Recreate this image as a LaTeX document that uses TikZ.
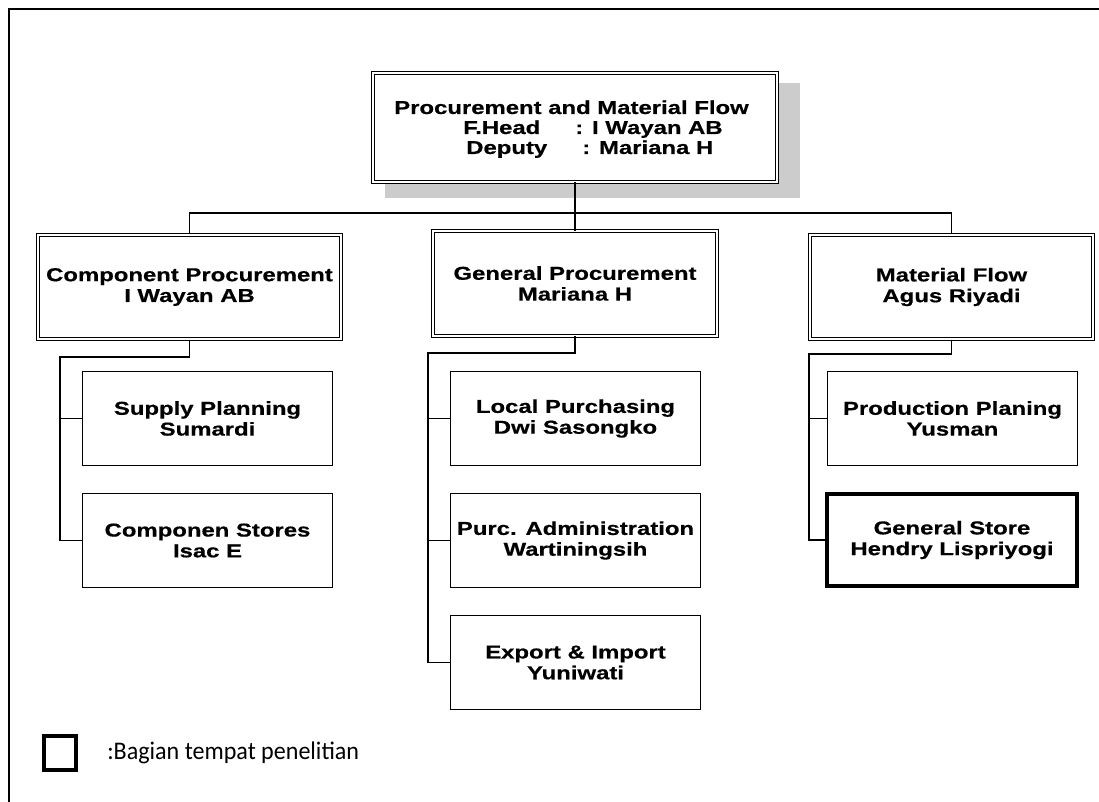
\documentclass[tikz,border=0pt]{standalone}
\usepackage{fontspec}
\newfontfamily\orgfont[FakeStretch=1.28, BoldFeatures={FakeBold=0.5}]{Liberation Sans}
\newfontfamily\notefont[FakeStretch=0.95]{Carlito}
\newcommand\boxfnt{\orgfont\bfseries\fontsize{14}{15.6}\selectfont}
\usetikzlibrary{calc}

\tikzset{
  frameline/.style={line width=2.2pt},
  sz/.style 2 args={minimum width=#1*0.75pt, minimum height=#2*0.75pt},
  headbox/.style={draw, double, line width=0.75pt, double distance=1.5pt,
    fill=white, rectangle, inner sep=0pt, align=center, font=\boxfnt},
  unitbox/.style={draw, line width=0.8pt, rectangle, inner sep=0pt,
    align=center, font=\boxfnt, sz={250}{94}},
  keybox/.style={draw, line width=3pt, rectangle, inner sep=0pt,
    align=center, font=\boxfnt},
  label/.style={inner sep=0pt, font=\boxfnt},
  conn/.style={line width=1.1pt},
}

\begin{document}
\begin{tikzpicture}[x=0.75pt,y=-0.75pt]
\useasboundingbox (0,0) rectangle (1099,802);

% page frame
\draw[frameline] (9,802) -- (9,9) -- (1099,9);

% head of department with drop shadow
\fill[gray!40] (385,83) rectangle (800,198);
\node[headbox, sz={404}{109}] (top) at (575,127.5) {};
\node[label, anchor=base] (title) at (571.5,114) {Procurement and Material Flow};
\node[label, anchor=base west] (headrole) at (463,134) {F.Head};
\node[label, anchor=base west] (headname) at (575,134) {: I Wayan AB};
\node[label, anchor=base west] (deprole) at (466,154) {Deputy};
\node[label, anchor=base west] (depname) at (582,154) {: Mariana H};

% sections
\node[headbox, sz={303}{104}] (cp) at (189.5,287) {Component Procurement\\I Wayan AB};
\node[headbox, sz={284}{104.5}] (gp) at (575,283.5) {General Procurement\\Mariana H};
\node[headbox, sz={283}{104}] (mf) at (951.5,287) {Material Flow\\Agus Riyadi};

% units
\node[unitbox] (sp) at (207.5,418.5) {Supply Planning\\Sumardi};
\node[unitbox] (cs) at (207.5,540.5) {Componen Stores\\Isac E};
\node[unitbox] (lp) at (575.5,418.5) {Local Purchasing\\Dwi Sasongko};
\node[unitbox] (pa) at (575.5,540.5) {Purc. Administration\\Wartiningsih};
\node[unitbox] (ei) at (575.5,662.5) {Export \& Import\\Yuniwati};
\node[unitbox] (pp) at (952.5,418.5) {Production Planing\\Yusman};
\node[keybox, sz={250}{92}] (gs) at (952,540) {General Store\\Hendry Lispriyogi};

% head to sections
\coordinate (bus) at (575,213);
\draw[conn] (top.south) -- (bus);
\draw[conn] (cp.north) -- (cp.north |- bus) -- (mf.north |- bus) -- (mf.north);
\draw[conn] (gp.north |- bus) -- (gp.north);

% sections to units
\coordinate (cpk) at (60,357);
\draw[conn] (cp.south) |- (cpk) |- (cs.west);
\draw[conn] (cpk |- sp.west) -- (sp.west);

\coordinate (gpk) at (428,353);
\draw[conn] (gp.south) |- (gpk) |- (ei.west);
\draw[conn] (gpk |- lp.west) -- (lp.west);
\draw[conn] (gpk |- pa.west) -- (pa.west);

\coordinate (mfk) at (809,354);
\draw[conn] (mf.south) |- (mfk) |- (gs.west);
\draw[conn] (mfk |- pp.west) -- (pp.west);

% legend
\node[keybox, sz={32}{34}] (key) at (60,753) {};
\node[anchor=base west, inner sep=0pt, font=\notefont\fontsize{19}{21}\selectfont]
  (keytext) at (107,759) {:Bagian tempat penelitian};
\end{tikzpicture}
\end{document}
